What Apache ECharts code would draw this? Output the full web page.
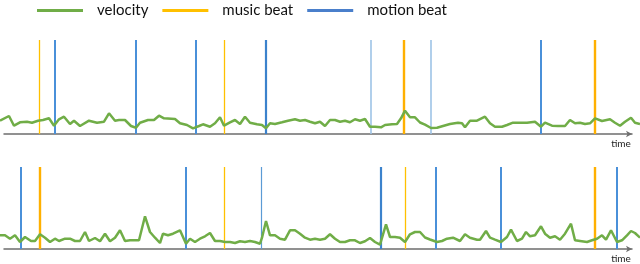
<!DOCTYPE html>
<html><head><meta charset="utf-8">
<script src="https://cdn.jsdelivr.net/npm/echarts@6/dist/echarts.min.js"></script>
<style>html,body{margin:0;padding:0;background:#fff}#c{width:640px;height:264px}</style>
</head><body><div id="c"></div>
<script>
// ---- data (time in frames, velocity in arbitrary units) ----
const topTime = [0,9,14,20,27,32,38,43,49,54,59,64,70,74,80,89,97,104,109,115,119,125,131,136,140,148,154,159,164,175,180,187,193,199,203,210,215,220,224,230,235,240,245,250,257,262,266,270,275,282,288,295,300,305,310,315,320,325,330,335,340,345,350,355,360,365,370,375,381,385,392,397,401,405,410,415,420,425,431,437,443,450,458,462,465,470,477,485,490,495,502,507,513,520,527,535,541,545,552,558,565,570,575,580,585,590,595,602,610,615,620,625,631,635,640];
const topVelocity = [13.3,18,8.3,11.7,12.3,11.3,13.3,14,15.7,8.3,14.7,17.3,10,13.3,8,13.3,11.3,12.3,20.7,13.3,14,14,8,6.3,11.3,14,14,18.3,15.7,15,10.7,9,5.7,8,9.7,7.3,10.7,16.7,8.3,11.7,14,10,17.3,11.3,9.7,9,5.7,10.7,10,11.7,13.3,14.7,13.3,14,12.3,10.7,12.3,8,14,14,12.3,13.3,11.7,14.7,13.3,15,7.3,7.3,6.7,9,9.7,10,15.7,23.3,16.7,16.7,11.5,9.3,6,6.3,8,10,11.3,10.7,6.7,13.3,13.3,17.3,10.7,7.3,7.3,9,11.3,11.3,11.3,12.3,7.3,11.3,8.3,8,8,14,10.7,11.3,10,10.7,15.7,13,14.7,11.3,8.3,12.3,16.3,11.3,10];
const bottomTime = [0,5,10,15,20,25,31,35,40,45,50,55,59,65,70,75,80,85,89,95,100,105,110,115,120,125,130,135,139,145,150,155,160,163,168,173,180,186,190,195,200,205,210,215,220,225,230,235,240,245,250,255,260,262,266,270,275,280,285,290,295,300,305,310,315,320,325,330,335,340,345,350,355,360,365,370,375,380,386,390,395,400,405,410,415,420,425,430,437,442,447,453,460,465,470,477,480,486,490,495,501,507,511,517,522,526,530,535,541,545,550,555,560,565,571,575,580,587,592,597,602,606,611,617,622,627,631,635,640];
const bottomVelocity = [13.7,13.7,10.3,13.7,7,12,8,8,14.7,11.3,7,10.3,8,10.3,10.3,8,8,17,8,11,7.7,15.3,7.7,11.3,18.7,8,8.7,8.7,8.7,32.7,17,11.3,6,15.3,13.7,15.3,18.7,5.3,10.3,7,10.3,12.7,16,8,8,7,7,6,7.7,7,8,7,5.3,11.3,28,13.7,13.7,10.3,9.3,18.7,18.7,15.3,11.3,9.3,10.3,9.3,10.3,14.7,10.3,7,7,8.7,8.7,6,7.7,11,7,4.3,24.7,12,12,11.3,7,14.7,17,17,11.5,9.5,7,8,10.3,11.3,8,14.7,11.3,9.3,9.3,18,11.3,9.3,7,12,19.3,8,10.3,17,12.7,13.7,22.7,15.3,11.3,12.7,9.3,15.3,25.3,8.7,8,7,8.7,10.3,13.7,9.3,18.7,7,8.7,13.7,18,16,11.3];
const topMusicBeats = [39, 224, 404, 595];
const topMotionBeats = [55, 136, 196, 266, 371, 431, 541];
const bottomMusicBeats = [40, 224, 405, 595];
const bottomMotionBeats = [21, 186, 261, 381, 436, 501, 617];
const legendNames = ['velocity', 'music beat', 'motion beat'];
const axisName = 'time';

// ---- looks (kept apart from the data) ----
const looks = {
  musicLight: {color: '#FFC000', width: 1.3},
  musicStrong: {color: '#FFB000', width: 2.4},
  motion: {color: '#4A90D9', width: 2},
  motionDark: {color: '#3B82CC', width: 2.2},
  motionLight: {color: '#9DC3E6', width: 1.6},
  motionThin: {color: '#5B9BD5', width: 1.2}
};
const topMusicLook = ['musicLight','musicLight','musicStrong','musicStrong'];
const topMotionLook = ['motion','motion','motion','motionDark','motionLight','motionLight','motion'];
const bottomMusicLook = ['musicStrong','musicLight','musicLight','musicStrong'];
const bottomMotionLook = ['motion','motion','motionThin','motionDark','motion','motion','motion'];

const panels = [
  {top: 40, height: 94, t: topTime, v: topVelocity, music: topMusicBeats, motion: topMotionBeats, ml: topMusicLook, mo: topMotionLook},
  {top: 167, height: 82, t: bottomTime, v: bottomVelocity, music: bottomMusicBeats, motion: bottomMotionBeats, ml: bottomMusicLook, mo: bottomMotionLook}
];

const FONT = 'Lato';
const grid = [], xAxis = [], yAxis = [], series = [];
panels.forEach((p, i) => {
  grid.push({left: 0, width: 640, top: p.top, height: p.height});
  xAxis.push({type: 'value', gridIndex: 2*i, min: 0, max: 640, show: false});
  yAxis.push({type: 'value', gridIndex: 2*i, min: 0, max: p.height, show: false});
  grid.push({left: 4, width: 628, top: p.top, height: p.height});
  xAxis.push({type: 'value', gridIndex: 2*i+1, min: 0, max: 1,
    axisLine: {show: true, onZero: false, symbol: ['none','arrow'], symbolSize: [5,6], lineStyle: {color: '#6E6E6E', width: 1.5}},
    axisTick: {show: false}, axisLabel: {show: false}, splitLine: {show: false},
    name: axisName, nameLocation: 'end', nameGap: -11,
    nameTextStyle: {fontFamily: FONT, fontSize: 10, color: '#222', align: 'center', verticalAlign: 'top', padding: [5,0,0,0]}});
  yAxis.push({type: 'value', gridIndex: 2*i+1, min: 0, max: 1, show: false});

  const ml = (arr, lk) => arr.map((x, k) => ({xAxis: x, lineStyle: {color: looks[lk[k]].color, width: looks[lk[k]].width, type: 'solid'}}));
  series.push({name: 'music beat', type: 'line', xAxisIndex: 2*i, yAxisIndex: 2*i, data: [], color: '#FFC000',
    markLine: {silent: true, symbol: ['none','none'], label: {show: false}, animation: false, data: ml(p.music, p.ml)}, z: 2});
  series.push({name: 'motion beat', type: 'line', xAxisIndex: 2*i, yAxisIndex: 2*i, data: [], color: '#4A7FCB',
    markLine: {silent: true, symbol: ['none','none'], label: {show: false}, animation: false, data: ml(p.motion, p.mo)}, z: 2});
  series.push({name: 'velocity', type: 'line', xAxisIndex: 2*i, yAxisIndex: 2*i, color: '#70AD47',
    data: p.t.map((x, k) => [x, p.v[k]]), showSymbol: false, symbol: 'none',
    lineStyle: {width: 2.5, color: '#70AD47'}, z: 5, animation: false});
});

const chart = echarts.init(document.getElementById('c'), null, {renderer: 'canvas'});
chart.setOption({
  animation: false,
  backgroundColor: '#fff',
  legend: {
    left: 37, top: 3, padding: 0, icon: 'rect', itemWidth: 46, itemHeight: 3, itemGap: 14,
    data: legendNames,
    textStyle: {fontFamily: FONT, fontSize: 15, color: '#111', padding: [0,0,0,9]}
  },
  grid, xAxis, yAxis, series
});
</script></body></html>
